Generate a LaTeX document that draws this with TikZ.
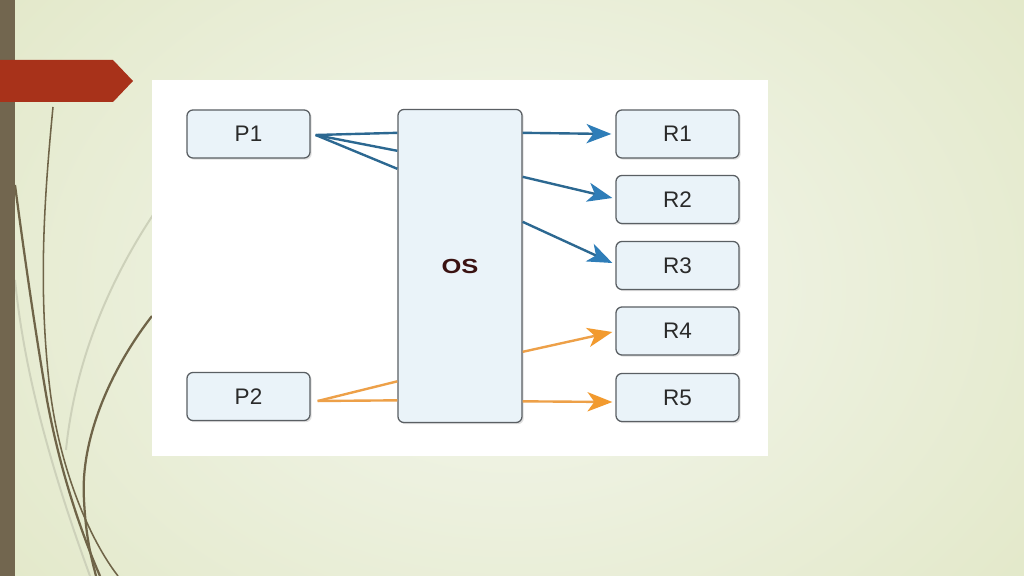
\documentclass[tikz,border=0pt]{standalone}
\usepackage{fontspec}
\setmainfont{Liberation Sans}
\usetikzlibrary{arrows.meta,calc,shadows}
\definecolor{bgin}{HTML}{F4F7EE}
\definecolor{bgout}{HTML}{E1E7C6}
\definecolor{barc}{HTML}{72664F}
\definecolor{bannerc}{HTML}{A8321A}
\definecolor{curvec}{HTML}{6F6448}
\definecolor{faintc}{HTML}{CDD1BA}
\definecolor{boxfill}{HTML}{EAF3F9}
\definecolor{boxline}{HTML}{5A5F63}
\definecolor{labeltext}{HTML}{2A2A2A}
\definecolor{ostext}{HTML}{3A1212}
\definecolor{blueline}{HTML}{2C6891}
\definecolor{bluehead}{HTML}{2E7DB8}
\definecolor{orangeline}{HTML}{EDA048}
\definecolor{orangehead}{HTML}{F29A2E}
\tikzset{
  box/.style={draw=boxline, line width=0.9pt, fill=boxfill, rounded corners=0.15cm,
    minimum width=3.075cm, minimum height=1.2cm, inner sep=0pt,
    font=\fontsize{16}{19}\selectfont, text=labeltext,
    drop shadow={shadow xshift=1.2pt, shadow yshift=-1.2pt, opacity=0.25}},
  bl/.style={draw=blueline, line width=1.7pt},
  ol/.style={draw=orangeline, line width=1.7pt},
  barrow/.style={bl, -{Stealth[length=0.62cm,width=0.48cm,inset=0.17cm,color=bluehead]}},
  oarrow/.style={ol, -{Stealth[length=0.62cm,width=0.48cm,inset=0.17cm,color=orangehead]}},
  thickcurve/.style={draw=curvec, line width=1.6pt},
  thincurve/.style={draw=curvec, line width=1.1pt},
  faint/.style={draw=faintc, line width=1.4pt}
}
\begin{document}
\begin{tikzpicture}[x=0.025cm,y=-0.025cm]
\useasboundingbox (0,0) rectangle (1024,576);
% background
\shade[inner color=bgin, outer color=bgout] (-200,-250) rectangle (1224,826);
% decorative curves
\draw[faint] (153,215) .. controls (110,280) and (75,360) .. (66,450);
\draw[faint] (15,280) .. controls (25,380) and (55,480) .. (90,576);
\draw[thincurve] (53,107) .. controls (44,200) and (38,290) .. (50,390) .. controls (60,470) and (90,540) .. (118,576);
\draw[thickcurve] (15,185) .. controls (25,260) and (35,330) .. (47,400) .. controls (60,470) and (80,530) .. (100,576);
\draw[thickcurve] (152,316) .. controls (110,370) and (80,440) .. (84,500) .. controls (86,540) and (92,560) .. (96,576);
% left bar
\fill[barc] (0,0) rectangle (15,576);
% banner
\fill[bannerc] (0,60) -- (113,60) -- (133,81) -- (113,102) -- (0,102) -- cycle;
% white panel
\fill[white] (152,80) rectangle (768,456);
% nodes
\node[box] (P1) at (248.5,134) {P1};
\node[box] (P2) at (248.5,396.5) {P2};
\node[box, minimum width=3.1cm, minimum height=7.825cm, font=\fontsize{14.5}{17}\selectfont\bfseries, text=ostext] (OS) at (460,266) {\scalebox{1.25}[1]{OS}};
\node[box] (R1) at (677.5,134) {R1};
\node[box] (R2) at (677.5,199.5) {R2};
\node[box] (R3) at (677.5,265.5) {R3};
\node[box] (R4) at (677.5,331) {R4};
\node[box] (R5) at (677.5,397.5) {R5};
% P1 lines
\coordinate (p1o) at ($(P1.east)+(5,1)$);
\draw[bl] (p1o) -- ($(OS.north west)+(0,24)$);
\draw[bl] (p1o) -- ($(OS.north west)+(0,42)$);
\draw[bl] (p1o) -- ($(OS.north west)+(0,60)$);
% P2 lines
\coordinate (p2o) at ($(P2.east)+(7,4.5)$);
\draw[ol] (p2o) -- ($(OS.north west)+(0,291.5)$);
\draw[ol] (p2o) -- ($(OS.north west)+(0,272.5)$);
% arrows to resources
\draw[barrow] ($(OS.north east)+(0,24)$) -- ($(R1.west)+(-4,0)$);
\draw[barrow] ($(OS.north east)+(0,68)$) -- ($(R2.west)+(-3,-1.5)$);
\draw[barrow] ($(OS.north east)+(0,113)$) -- ($(R3.west)+(-3,-2.5)$);
\draw[oarrow] ($(OS.north east)+(0,243)$) -- ($(R4.west)+(-3,1)$);
\draw[oarrow] ($(OS.north east)+(0,292.5)$) -- ($(R5.west)+(-3,4.5)$);
\end{tikzpicture}
\end{document}
